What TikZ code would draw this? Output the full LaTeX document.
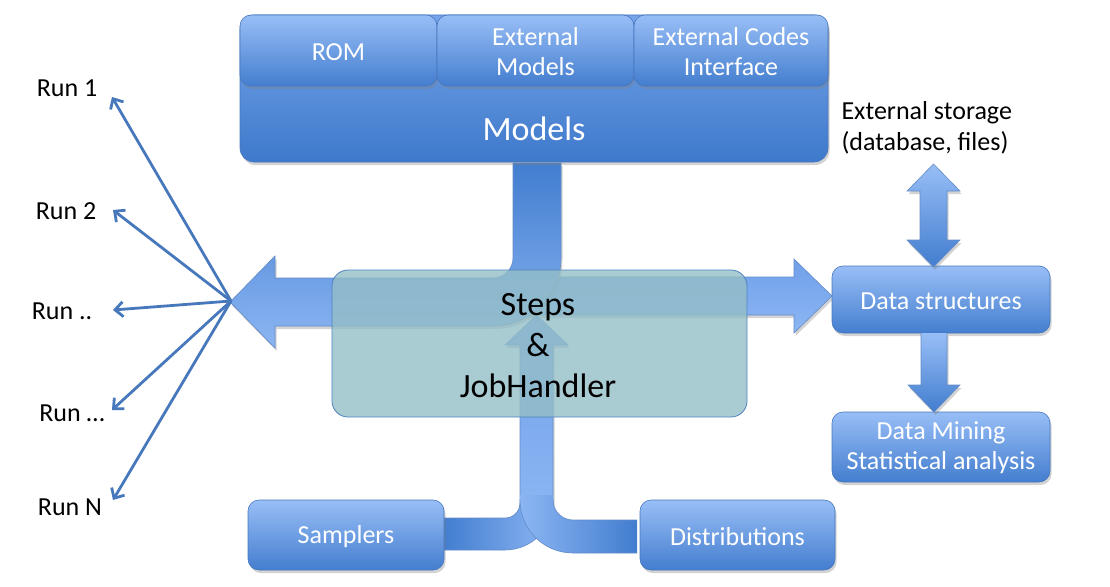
\documentclass[tikz,border=0pt]{standalone}
\usepackage{fontspec}
\setmainfont{Carlito}
\usetikzlibrary{arrows.meta,shadows}
\definecolor{boxtop}{RGB}{152,190,246}
\definecolor{boxbot}{RGB}{68,126,207}
\definecolor{modtop}{RGB}{118,165,234}
\definecolor{modbot}{RGB}{62,121,203}
\definecolor{edgecol}{RGB}{70,118,190}
\definecolor{barlight}{RGB}{140,182,243}
\definecolor{barmid}{RGB}{112,160,234}
\definecolor{bardark}{RGB}{66,125,207}
\definecolor{stepfill}{RGB}{148,190,199}
\definecolor{stepedge}{RGB}{80,130,190}
\definecolor{runcol}{RGB}{72,120,188}
\tikzset{
 shad/.style={drop shadow={opacity=0.35,shadow xshift=1.5pt,shadow yshift=-3pt}},
 bluebox/.style={draw=edgecol, line width=0.6pt, rounded corners=11pt, top color=boxtop, bottom color=boxbot, shad},
 boxtext/.style={text=white, font=\fontsize{26}{30}\selectfont, align=center},
 plaintext/.style={text=black, font=\fontsize{26}{31}\selectfont, align=center},
 baredge/.style={draw=edgecol!85, line width=0.6pt},
 runarrow/.style={draw=runcol, line width=2.8pt, -{Straight Barb[length=8pt,width=15pt]}},
}
\begin{document}
\begin{tikzpicture}[x=1pt,y=-1pt]
\useasboundingbox (0,0) rectangle (1110,586);

% ---- right arrow (Steps -> Data structures)
\path[shad, top color=barmid, bottom color=barlight]
  (500,277) -- (794,277) -- (794,259) -- (832,296) -- (794,333) -- (794,315) -- (500,315) -- cycle;
\draw[baredge] (500,277) -- (794,277) -- (794,259) -- (832,296) -- (794,333) -- (794,315) -- (500,315);

% ---- bent arrow from Models to runs
\path[shad, top color=bardark, bottom color=barlight]
  (513,163) -- (513,258) .. controls (513,269) and (504,278) .. (493,278) -- (275,278) -- (275,256) -- (230,302)
  -- (275,348) -- (275,326) -- (493,326) .. controls (530.5,326) and (561,295.5) .. (561,258) -- (561,163) -- cycle;
\draw[baredge]
  (513,163) -- (513,258) .. controls (513,269) and (504,278) .. (493,278) -- (275,278) -- (275,256) -- (230,302)
  -- (275,348) -- (275,326) -- (493,326) .. controls (530.5,326) and (561,295.5) .. (561,258) -- (561,163) -- cycle;

% ---- up arrow into Steps
\path[shad, top color=barmid, bottom color=barlight]
  (520,515) -- (520,345) -- (505,345) -- (536.5,315) -- (568,345) -- (553,345) -- (553,515) -- cycle;
\draw[baredge] (520,515) -- (520,345) -- (505,345) -- (536.5,315) -- (568,345) -- (553,345) -- (553,515);

% ---- samplers connector
\path[left color=bardark, right color=barlight]
  (443,518) -- (505,518) .. controls (513.3,518) and (520,511.3) .. (520,503) -- (520,498) -- (553,498) -- (553,502)
  .. controls (553,528.5) and (531.5,550) .. (505,550) -- (443,550) -- cycle;
\draw[baredge] (443,518) -- (505,518) .. controls (513.3,518) and (520,511.3) .. (520,503);
\draw[baredge] (553,502) .. controls (553,528.5) and (531.5,550) .. (505,550) -- (443,550);

% ---- distributions connector
\path[left color=barlight, right color=bardark]
  (637,520) -- (573,520) .. controls (562,520) and (553,511) .. (553,500) -- (553,495) -- (520,495) -- (520,500)
  .. controls (520,529.3) and (543.7,553) .. (573,553) -- (637,553) -- cycle;
\draw[baredge] (637,520) -- (573,520) .. controls (562,520) and (553,511) .. (553,500);
\draw[baredge] (520,500) .. controls (520,529.3) and (543.7,553) .. (573,553) -- (637,553);

% ---- Steps box
\node[draw=stepedge, line width=0.8pt, fill=stepfill, fill opacity=0.8, rounded corners=16pt,
      minimum width=415pt, minimum height=147pt, inner sep=0pt] (steps) at (539.5,343.5) {};
\node[text=black, font=\fontsize{34}{41}\selectfont, align=center] (stepstxt) at (538,346) {Steps\\\&\\JobHandler};

% ---- Models block
\node[bluebox, top color=modtop, bottom color=modbot, rounded corners=14pt,
      minimum width=588pt, minimum height=147pt, inner sep=0pt] (models) at (534,88.5) {};
\node[bluebox, minimum width=197pt, minimum height=71pt, inner sep=0pt] (rom) at (338.5,50.5) {};
\node[bluebox, minimum width=197pt, minimum height=71pt, inner sep=0pt] (extm) at (535.5,50.5) {};
\node[bluebox, minimum width=194pt, minimum height=71pt, inner sep=0pt] (extc) at (731,50.5) {};
\node[boxtext] at (338.5,52) {ROM};
\node[boxtext] at (535.5,52) {External\\Models};
\node[boxtext] at (731,52) {External Codes\\Interface};
\node[text=white, font=\fontsize{34}{40}\selectfont] (modlbl) at (534,129) {Models};

% ---- bottom boxes
\node[bluebox, minimum width=196pt, minimum height=70pt, inner sep=0pt] (samp) at (346,535) {};
\node[boxtext] at (346,537) {Samplers};
\node[bluebox, minimum width=195pt, minimum height=70pt, inner sep=0pt] (dist) at (737.5,535) {};
\node[boxtext] at (737.5,537) {Distributions};

% ---- right column
\node[bluebox, minimum width=218pt, minimum height=67pt, inner sep=0pt] (ds) at (941,299.5) {};
\node[boxtext] at (941,301) {Data structures};
\node[bluebox, minimum width=218pt, minimum height=70pt, inner sep=0pt] (dm) at (941,447) {};
\node[boxtext] at (941,448) {Data Mining\\Statistical analysis};
\node[plaintext, align=left, anchor=west] (ext) at (838,128) {External storage\\(database, files)};

\path[shad, top color=boxtop, bottom color=bardark]
  (920,191) -- (907,191) -- (933.5,164) -- (960,191) -- (947,191) -- (947,240) -- (960,240) -- (933.5,267)
  -- (907,240) -- (920,240) -- cycle;
\draw[baredge] (920,191) -- (907,191) -- (933.5,164) -- (960,191) -- (947,191) -- (947,240) -- (960,240) -- (933.5,267)
  -- (907,240) -- (920,240) -- cycle;
\path[shad, top color=boxtop, bottom color=bardark]
  (921,333) -- (921,385) -- (908,385) -- (934,412) -- (960,385) -- (947,385) -- (947,333) -- cycle;
\draw[baredge] (921,333) -- (921,385) -- (908,385) -- (934,412) -- (960,385) -- (947,385) -- (947,333);

% ---- runs
\coordinate (fan) at (231,301);
\node[plaintext] (run1) at (67,88) {Run 1};
\node[plaintext] (run2) at (66,211) {Run 2};
\node[plaintext] (run3) at (62,311) {Run ..};
\node[plaintext] (run4) at (72,413) {Run …};
\node[plaintext] (run5) at (70,507) {Run N};
\coordinate (e1) at (112,97);
\coordinate (e2) at (113,210);
\coordinate (e3) at (113,310);
\coordinate (e4) at (112,410);
\coordinate (e5) at (113,500);
\foreach \e in {e1,e2,e3,e4,e5} \draw[runarrow] (fan) -- (\e);
\end{tikzpicture}
\end{document}
